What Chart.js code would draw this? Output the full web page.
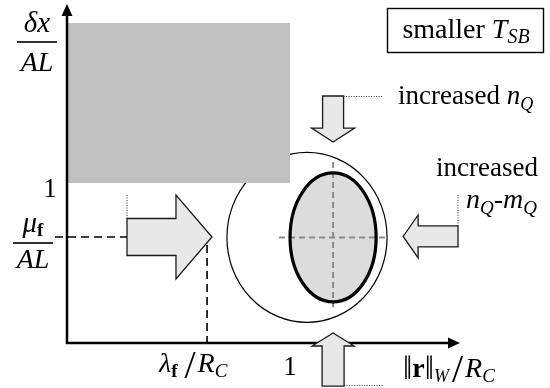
<!DOCTYPE html>
<html>
<head>
<meta charset="utf-8">
<script src="https://cdn.jsdelivr.net/npm/chart.js@4"></script>
<style>
  html, body { margin: 0; padding: 0; background: #fff; }
  #wrap { width: 550px; height: 388px; }
</style>
</head>
<body>
<div id="wrap"><canvas id="c" width="550" height="388"></canvas></div>
<script>
// Normalised axes: horizontal ||r||_W / R_C, vertical δx / AL
const xRange = [0, 1.762];
const yRange = [0, 2.119];
const xTickValues = [1];
const yTickValues = [1];

// Shaded region [x0, x1, y0, y1]
const shadedRegion = [0, 1, 1, 2];

// Operating point marked by the dashed guides
const lambdaRatio = 0.628;   // λ_f / R_C
const muRatio = 0.6625;      // μ_f / AL

// Outer circle and inner ellipse [cx, cy, rx, ry]
const outerRegion = [1.076, 0.66, 0.359, 0.531];
const innerRegion = [1.193, 0.66, 0.193, 0.403];

// Block arrows: tail point -> tip point (axis units)
const arrowTails = [[0.269, 0.6625], [1.193, 1.544], [1.193, -0.269], [1.753, 0.666]];
const arrowTips  = [[0.650, 0.6625], [1.193, 1.256], [1.193, 0.0625], [1.507, 0.666]];

const SERIF = '"Liberation Serif", "Times New Roman", serif';

function font(style, size) {
  return (style ? style + ' ' : '') + size + 'px ' + SERIF;
}

// Draw a run of differently styled pieces along one baseline
function rich(ctx, x, y, runs, align) {
  let total = 0;
  runs.forEach(r => { ctx.font = font(r.s, r.z); total += ctx.measureText(r.t).width + (r.gap || 0); });
  let cx = align === 'center' ? x - total / 2 : align === 'right' ? x - total : x;
  ctx.textAlign = 'left';
  ctx.textBaseline = 'alphabetic';
  ctx.fillStyle = '#000';
  runs.forEach(r => {
    ctx.font = font(r.s, r.z);
    ctx.fillText(r.t, cx, y + (r.dy || 0));
    cx += ctx.measureText(r.t).width + (r.gap || 0);
  });
  return total;
}

function blockArrow(ctx, p0, p1, shaftHalf, headHalf, headLen) {
  const dx = p1[0] - p0[0], dy = p1[1] - p0[1];
  const len = Math.hypot(dx, dy);
  const ux = dx / len, uy = dy / len;
  const nx = -uy, ny = ux;
  const bx = p1[0] - ux * headLen, by = p1[1] - uy * headLen;
  ctx.beginPath();
  ctx.moveTo(p0[0] + nx * shaftHalf, p0[1] + ny * shaftHalf);
  ctx.lineTo(bx + nx * shaftHalf, by + ny * shaftHalf);
  ctx.lineTo(bx + nx * headHalf, by + ny * headHalf);
  ctx.lineTo(p1[0], p1[1]);
  ctx.lineTo(bx - nx * headHalf, by - ny * headHalf);
  ctx.lineTo(bx - nx * shaftHalf, by - ny * shaftHalf);
  ctx.lineTo(p0[0] - nx * shaftHalf, p0[1] - ny * shaftHalf);
  ctx.closePath();
  ctx.fillStyle = '#e8e8e8';
  ctx.fill();
  ctx.strokeStyle = '#1a1a1a';
  ctx.lineWidth = 1.3;
  ctx.stroke();
}

function dotted(ctx, x0, y0, x1, y1) {
  ctx.save();
  ctx.strokeStyle = '#333';
  ctx.lineWidth = 1;
  ctx.setLineDash([1, 1.5]);
  ctx.beginPath();
  ctx.moveTo(x0, y0);
  ctx.lineTo(x1, y1);
  ctx.stroke();
  ctx.restore();
}

const diagramPlugin = {
  id: 'diagram',
  afterDatasetsDraw(chart) {
    const ctx = chart.ctx;
    const X = v => chart.scales.x.getPixelForValue(v);
    const Y = v => chart.scales.y.getPixelForValue(v);
    const x0 = X(0), y0 = Y(0);
    const area = chart.chartArea;

    ctx.save();

    // outer circle
    ctx.beginPath();
    ctx.ellipse(X(outerRegion[0]), Y(outerRegion[1]),
      X(outerRegion[0] + outerRegion[2]) - X(outerRegion[0]),
      Y(outerRegion[1]) - Y(outerRegion[1] + outerRegion[3]), 0, 0, Math.PI * 2);
    ctx.strokeStyle = '#000';
    ctx.lineWidth = 1.2;
    ctx.stroke();

    // shaded region
    ctx.fillStyle = '#c0c0c0';
    ctx.fillRect(X(shadedRegion[0]), Y(shadedRegion[3]),
      X(shadedRegion[1]) - X(shadedRegion[0]), Y(shadedRegion[2]) - Y(shadedRegion[3]));

    // inner ellipse
    const icx = X(innerRegion[0]), icy = Y(innerRegion[1]);
    const irx = X(innerRegion[0] + innerRegion[2]) - icx;
    const iry = icy - Y(innerRegion[1] + innerRegion[3]);
    ctx.beginPath();
    ctx.ellipse(icx, icy, irx, iry, 0, 0, Math.PI * 2);
    ctx.fillStyle = '#dcdcdc';
    ctx.fill();

    // crosshair through the inner ellipse
    ctx.save();
    ctx.strokeStyle = '#8a8a8a';
    ctx.lineWidth = 2;
    ctx.setLineDash([6, 4]);
    ctx.beginPath();
    ctx.moveTo(icx - 54, icy);
    ctx.lineTo(X(outerRegion[0] + outerRegion[2]), icy);
    ctx.moveTo(icx, icy - iry - 11);
    ctx.lineTo(icx, icy + iry + 5);
    ctx.stroke();
    ctx.restore();

    ctx.beginPath();
    ctx.ellipse(icx, icy, irx, iry, 0, 0, Math.PI * 2);
    ctx.strokeStyle = '#000';
    ctx.lineWidth = 3.2;
    ctx.stroke();

    // dashed guides to the operating point
    const lx = X(lambdaRatio), my = Y(muRatio);
    ctx.save();
    ctx.strokeStyle = '#000';
    ctx.lineWidth = 1.6;
    ctx.setLineDash([8, 5]);
    ctx.beginPath();
    ctx.moveTo(x0 - 12, my);
    ctx.lineTo(X(arrowTails[0][0]), my);
    ctx.moveTo(lx, my + 8);
    ctx.lineTo(lx, y0 + 6);
    ctx.stroke();
    ctx.restore();

    // axes with arrow heads
    ctx.strokeStyle = '#000';
    ctx.fillStyle = '#000';
    ctx.lineWidth = 2.5;
    ctx.beginPath();
    ctx.moveTo(x0, y0 + 1);
    ctx.lineTo(x0, area.top + 10);
    ctx.moveTo(x0 - 1, y0);
    ctx.lineTo(area.right - 10, y0);
    ctx.stroke();
    ctx.beginPath();
    ctx.moveTo(x0, area.top);
    ctx.lineTo(x0 - 5.5, area.top + 12);
    ctx.lineTo(x0 + 5.5, area.top + 12);
    ctx.closePath();
    ctx.fill();
    ctx.beginPath();
    ctx.moveTo(area.right, y0);
    ctx.lineTo(area.right - 12, y0 - 5.5);
    ctx.lineTo(area.right - 12, y0 + 5.5);
    ctx.closePath();
    ctx.fill();

    // block arrows
    const P = p => [X(p[0]), Y(p[1])];
    blockArrow(ctx, P(arrowTails[0]), P(arrowTips[0]), 18.5, 42, 36);
    blockArrow(ctx, P(arrowTails[1]), P(arrowTips[1]), 10.5, 21.5, 14);
    blockArrow(ctx, P(arrowTails[2]), P(arrowTips[2]), 11, 21, 13);
    blockArrow(ctx, P(arrowTails[3]), P(arrowTips[3]), 10.5, 21.5, 15);

    // leader lines from arrows to their captions
    const a0 = P(arrowTails[0]), a1 = P(arrowTails[1]), a2 = P(arrowTails[2]), a3 = P(arrowTails[3]);
    dotted(ctx, a0[0], a0[1] - 18.5, a0[0], a0[1] - 43);
    dotted(ctx, a1[0] + 10.5, a1[1] + 0.5, a1[0] + 50, a1[1] + 0.5);
    dotted(ctx, a2[0] + 11, a2[1] - 0.5, a2[0] + 50, a2[1] - 0.5);
    dotted(ctx, a3[0], a3[1] - 10.5, a3[0], a3[1] - 43);

    // vertical axis labels
    const Z = 27;
    const S = 19;
    rich(ctx, 37, 32, [{ t: 'δx', s: 'italic', z: 29 }], 'center');
    ctx.fillRect(17, 41.2, 40, 1.6);
    rich(ctx, 37, 71, [{ t: 'AL', s: 'italic', z: 28 }], 'center');

    yTickValues.forEach(v => rich(ctx, 50, Y(v) + 14, [{ t: String(v), s: '', z: Z }], 'center'));

    rich(ctx, 33, my - 5, [
      { t: 'μ', s: 'italic', z: 29 },
      { t: 'f', s: 'bold', z: S, dy: 4 }
    ], 'center');
    ctx.fillRect(13, my + 5.2, 40, 1.6);
    rich(ctx, 33, my + 31, [{ t: 'AL', s: 'italic', z: 28 }], 'center');

    // horizontal axis labels
    rich(ctx, 159, 372, [
      { t: 'λ', s: 'italic', z: 28 },
      { t: 'f', s: 'bold', z: S, dy: 5, gap: 7 },
      { t: '/', s: '', z: 40, dy: 6, gap: 2 },
      { t: 'R', s: 'italic', z: 28 },
      { t: 'C', s: 'italic', z: S, dy: 5 }
    ], 'left');
    xTickValues.forEach(v => rich(ctx, X(v), 375, [{ t: String(v), s: '', z: Z }], 'center'));
    rich(ctx, 403, 377, [
      { t: '‖', s: '', z: 33, dy: 2 },
      { t: 'r', s: 'bold', z: 28 },
      { t: '‖', s: '', z: 33, dy: 2 },
      { t: 'W', s: 'italic', z: 18, dy: 5, gap: 3 },
      { t: '/', s: '', z: 40, dy: 5, gap: 2 },
      { t: 'R', s: 'italic', z: 28 },
      { t: 'C', s: 'italic', z: S, dy: 5 }
    ], 'left');

    // condition box
    ctx.strokeStyle = '#000';
    ctx.lineWidth = 1.4;
    ctx.strokeRect(387.5, 8.5, 156, 44);
    rich(ctx, 466, 38, [
      { t: 'smaller ', s: '', z: 28 },
      { t: 'T', s: 'italic', z: 28 },
      { t: 'SB', s: 'italic', z: 20, dy: 5 }
    ], 'center');

    // captions for the arrows
    rich(ctx, 398, 104, [
      { t: 'increased ', s: '', z: 27 },
      { t: 'n', s: 'italic', z: 27 },
      { t: 'Q', s: 'italic', z: 18, dy: 6 }
    ], 'left');
    rich(ctx, 538, 176, [{ t: 'increased', s: '', z: 27 }], 'right');
    rich(ctx, 466, 208, [
      { t: 'n', s: 'italic', z: 28 },
      { t: 'Q', s: 'italic', z: 19, dy: 6 },
      { t: '-', s: '', z: 28 },
      { t: 'm', s: 'italic', z: 28 },
      { t: 'Q', s: 'italic', z: 19, dy: 6 }
    ], 'left');

    ctx.restore();
  }
};

new Chart(document.getElementById('c'), {
  type: 'scatter',
  data: {
    datasets: [{
      label: 'operating point',
      data: [{ x: lambdaRatio, y: muRatio }],
      pointRadius: 0,
      showLine: false
    }]
  },
  options: {
    responsive: false,
    animation: false,
    events: [],
    layout: { padding: { left: 67, right: 90, top: 4, bottom: 45 } },
    plugins: { legend: { display: false }, tooltip: { enabled: false } },
    scales: {
      x: { type: 'linear', min: xRange[0], max: xRange[1], display: false },
      y: { type: 'linear', min: yRange[0], max: yRange[1], display: false }
    }
  },
  plugins: [diagramPlugin]
});
</script>
</body>
</html>
